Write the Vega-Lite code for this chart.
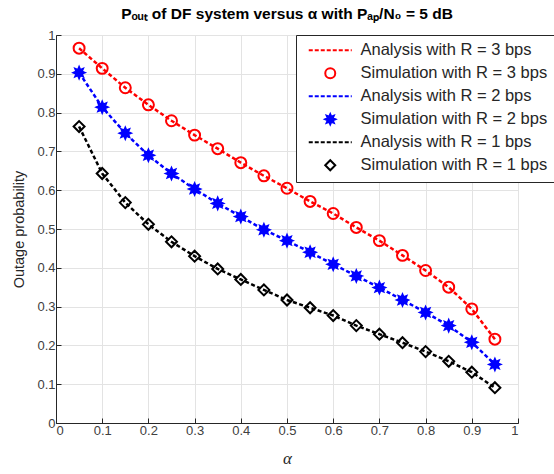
{
  "$schema": "https://vega.github.io/schema/vega-lite/v6.json",
  "width": 462,
  "height": 388,
  "autosize": "none",
  "padding": {"left": 56, "top": 35, "right": 36, "bottom": 51},
  "background": "white",
  "title": {
    "text": "Pₒᵤₜ of DF system versus α with Pₐₚ/N₀ = 5 dB",
    "font": "Liberation Sans",
    "fontSize": 15.5,
    "fontWeight": "bold",
    "color": "#000000",
    "anchor": "middle",
    "offset": 7
  },
  "config": {
    "view": {"stroke": "#262626", "strokeWidth": 1},
    "axis": {
      "labelFont": "Liberation Sans",
      "labelFontSize": 13,
      "labelColor": "#404040",
      "titleFont": "Liberation Sans",
      "titleColor": "#262626",
      "titleFontWeight": "normal",
      "domainColor": "#262626",
      "tickColor": "#262626",
      "tickSize": -5,
      "gridColor": "#e3e3e3",
      "gridWidth": 1
    }
  },
  "data": {
    "values": [
      {"a": 0.05, "Analysis with R = 3 bps": 0.966, "Simulation with R = 3 bps": 0.966, "Analysis with R = 2 bps": 0.903, "Simulation with R = 2 bps": 0.903, "Analysis with R = 1 bps": 0.764, "Simulation with R = 1 bps": 0.764},
      {"a": 0.10, "Analysis with R = 3 bps": 0.914, "Simulation with R = 3 bps": 0.914, "Analysis with R = 2 bps": 0.814, "Simulation with R = 2 bps": 0.814, "Analysis with R = 1 bps": 0.643, "Simulation with R = 1 bps": 0.643},
      {"a": 0.15, "Analysis with R = 3 bps": 0.864, "Simulation with R = 3 bps": 0.864, "Analysis with R = 2 bps": 0.747, "Simulation with R = 2 bps": 0.747, "Analysis with R = 1 bps": 0.568, "Simulation with R = 1 bps": 0.568},
      {"a": 0.20, "Analysis with R = 3 bps": 0.820, "Simulation with R = 3 bps": 0.820, "Analysis with R = 2 bps": 0.690, "Simulation with R = 2 bps": 0.690, "Analysis with R = 1 bps": 0.512, "Simulation with R = 1 bps": 0.512},
      {"a": 0.25, "Analysis with R = 3 bps": 0.779, "Simulation with R = 3 bps": 0.779, "Analysis with R = 2 bps": 0.643, "Simulation with R = 2 bps": 0.643, "Analysis with R = 1 bps": 0.467, "Simulation with R = 1 bps": 0.467},
      {"a": 0.30, "Analysis with R = 3 bps": 0.742, "Simulation with R = 3 bps": 0.742, "Analysis with R = 2 bps": 0.603, "Simulation with R = 2 bps": 0.603, "Analysis with R = 1 bps": 0.430, "Simulation with R = 1 bps": 0.430},
      {"a": 0.35, "Analysis with R = 3 bps": 0.707, "Simulation with R = 3 bps": 0.707, "Analysis with R = 2 bps": 0.566, "Simulation with R = 2 bps": 0.566, "Analysis with R = 1 bps": 0.397, "Simulation with R = 1 bps": 0.397},
      {"a": 0.40, "Analysis with R = 3 bps": 0.671, "Simulation with R = 3 bps": 0.671, "Analysis with R = 2 bps": 0.532, "Simulation with R = 2 bps": 0.532, "Analysis with R = 1 bps": 0.370, "Simulation with R = 1 bps": 0.370},
      {"a": 0.45, "Analysis with R = 3 bps": 0.637, "Simulation with R = 3 bps": 0.637, "Analysis with R = 2 bps": 0.498, "Simulation with R = 2 bps": 0.498, "Analysis with R = 1 bps": 0.343, "Simulation with R = 1 bps": 0.343},
      {"a": 0.50, "Analysis with R = 3 bps": 0.605, "Simulation with R = 3 bps": 0.605, "Analysis with R = 2 bps": 0.470, "Simulation with R = 2 bps": 0.470, "Analysis with R = 1 bps": 0.317, "Simulation with R = 1 bps": 0.317},
      {"a": 0.55, "Analysis with R = 3 bps": 0.571, "Simulation with R = 3 bps": 0.571, "Analysis with R = 2 bps": 0.440, "Simulation with R = 2 bps": 0.440, "Analysis with R = 1 bps": 0.297, "Simulation with R = 1 bps": 0.297},
      {"a": 0.60, "Analysis with R = 3 bps": 0.540, "Simulation with R = 3 bps": 0.540, "Analysis with R = 2 bps": 0.409, "Simulation with R = 2 bps": 0.409, "Analysis with R = 1 bps": 0.277, "Simulation with R = 1 bps": 0.277},
      {"a": 0.65, "Analysis with R = 3 bps": 0.504, "Simulation with R = 3 bps": 0.504, "Analysis with R = 2 bps": 0.379, "Simulation with R = 2 bps": 0.379, "Analysis with R = 1 bps": 0.251, "Simulation with R = 1 bps": 0.251},
      {"a": 0.70, "Analysis with R = 3 bps": 0.470, "Simulation with R = 3 bps": 0.470, "Analysis with R = 2 bps": 0.349, "Simulation with R = 2 bps": 0.349, "Analysis with R = 1 bps": 0.229, "Simulation with R = 1 bps": 0.229},
      {"a": 0.75, "Analysis with R = 3 bps": 0.432, "Simulation with R = 3 bps": 0.432, "Analysis with R = 2 bps": 0.317, "Simulation with R = 2 bps": 0.317, "Analysis with R = 1 bps": 0.207, "Simulation with R = 1 bps": 0.207},
      {"a": 0.80, "Analysis with R = 3 bps": 0.393, "Simulation with R = 3 bps": 0.393, "Analysis with R = 2 bps": 0.285, "Simulation with R = 2 bps": 0.285, "Analysis with R = 1 bps": 0.184, "Simulation with R = 1 bps": 0.184},
      {"a": 0.85, "Analysis with R = 3 bps": 0.350, "Simulation with R = 3 bps": 0.350, "Analysis with R = 2 bps": 0.251, "Simulation with R = 2 bps": 0.251, "Analysis with R = 1 bps": 0.159, "Simulation with R = 1 bps": 0.159},
      {"a": 0.90, "Analysis with R = 3 bps": 0.294, "Simulation with R = 3 bps": 0.294, "Analysis with R = 2 bps": 0.208, "Simulation with R = 2 bps": 0.208, "Analysis with R = 1 bps": 0.131, "Simulation with R = 1 bps": 0.131},
      {"a": 0.95, "Analysis with R = 3 bps": 0.216, "Simulation with R = 3 bps": 0.216, "Analysis with R = 2 bps": 0.151, "Simulation with R = 2 bps": 0.151, "Analysis with R = 1 bps": 0.091, "Simulation with R = 1 bps": 0.091}
    ]
  },
  "encoding": {
    "x": {
      "field": "a", "type": "quantitative",
      "scale": {"domain": [0, 1], "nice": false, "zero": false},
      "axis": {"values": [0,0.1,0.2,0.3,0.4,0.5,0.6,0.7,0.8,0.9,1], "format": ".1~f", "title": "α", "titleFont": "Liberation Serif", "titleFontStyle": "italic", "titleFontSize": 17, "titlePadding": 13, "labelPadding": 6}
    },
    "y": {
      "field": "p", "type": "quantitative",
      "scale": {"domain": [0, 1], "nice": false},
      "axis": {"values": [0,0.1,0.2,0.3,0.4,0.5,0.6,0.7,0.8,0.9,1], "format": ".1~f", "title": "Outage probability", "titleFontSize": 14.5, "titlePadding": 10, "labelPadding": 6}
    }
  },
  "layer": [
    {
      "transform": [{"fold": ["Analysis with R = 3 bps", "Analysis with R = 2 bps", "Analysis with R = 1 bps"], "as": ["s", "p"]}],
      "mark": {"type": "line", "strokeDash": [4, 2.5], "strokeWidth": 2.5},
      "encoding": {
        "stroke": {"field": "s", "type": "nominal", "title": null,
          "scale": {
            "domain": ["Analysis with R = 3 bps", "Simulation with R = 3 bps", "Analysis with R = 2 bps", "Simulation with R = 2 bps", "Analysis with R = 1 bps", "Simulation with R = 1 bps"],
            "range": ["#ff0000", "#ff0000", "#0000ff", "#0000ff", "#000000", "#000000"]
          }
        }
      }
    },
    {
      "transform": [{"fold": ["Simulation with R = 3 bps", "Simulation with R = 2 bps", "Simulation with R = 1 bps"], "as": ["s", "p"]}],
      "mark": {"type": "point", "filled": true, "size": 120, "strokeWidth": 2, "opacity": 1},
      "encoding": {
        "stroke": {"field": "s", "type": "nominal", "title": null,
          "legend": {
            "orient": "none", "legendX": 240, "legendY": 0,
            "fillColor": "white", "strokeColor": "#262626",
            "padding": 7, "symbolOffset": 19, "labelOffset": 22,
            "labelFont": "Liberation Sans", "labelFontSize": 16.5, "labelColor": "#262626",
            "symbolSize": 100, "symbolStrokeWidth": 2, "rowPadding": 5, "labelLimit": 300
          }
        },
        "fill": {"field": "s", "type": "nominal", "title": null,
          "scale": {
            "domain": ["Analysis with R = 3 bps", "Simulation with R = 3 bps", "Analysis with R = 2 bps", "Simulation with R = 2 bps", "Analysis with R = 1 bps", "Simulation with R = 1 bps"],
            "range": ["transparent", "transparent", "transparent", "#0000ff", "transparent", "transparent"]
          }
        },
        "shape": {"field": "s", "type": "nominal", "title": null,
          "scale": {
            "domain": ["Analysis with R = 3 bps", "Simulation with R = 3 bps", "Analysis with R = 2 bps", "Simulation with R = 2 bps", "Analysis with R = 1 bps", "Simulation with R = 1 bps"],
            "range": [
              "M-4.3,0H-3.5M-3.1,0H-2.3M-1.9,0H-1.1M-0.7,0H0.1M0.5,0H1.3M1.7,0H2.5M2.9,0H3.7M4.1,0H4.3",
              "circle",
              "M-4.3,0H-3.5M-3.1,0H-2.3M-1.9,0H-1.1M-0.7,0H0.1M0.5,0H1.3M1.7,0H2.5M2.9,0H3.7M4.1,0H4.3",
              "M1,0L0.508,0.21L0.707,0.707L0.21,0.508L0,1L-0.21,0.508L-0.707,0.707L-0.508,0.21L-1,0L-0.508,-0.21L-0.707,-0.707L-0.21,-0.508L0,-1L0.21,-0.508L0.707,-0.707L0.508,-0.21Z",
              "M-4.3,0H-3.5M-3.1,0H-2.3M-1.9,0H-1.1M-0.7,0H0.1M0.5,0H1.3M1.7,0H2.5M2.9,0H3.7M4.1,0H4.3",
              "diamond"
            ]
          }
        }
      }
    }
  ]
}
